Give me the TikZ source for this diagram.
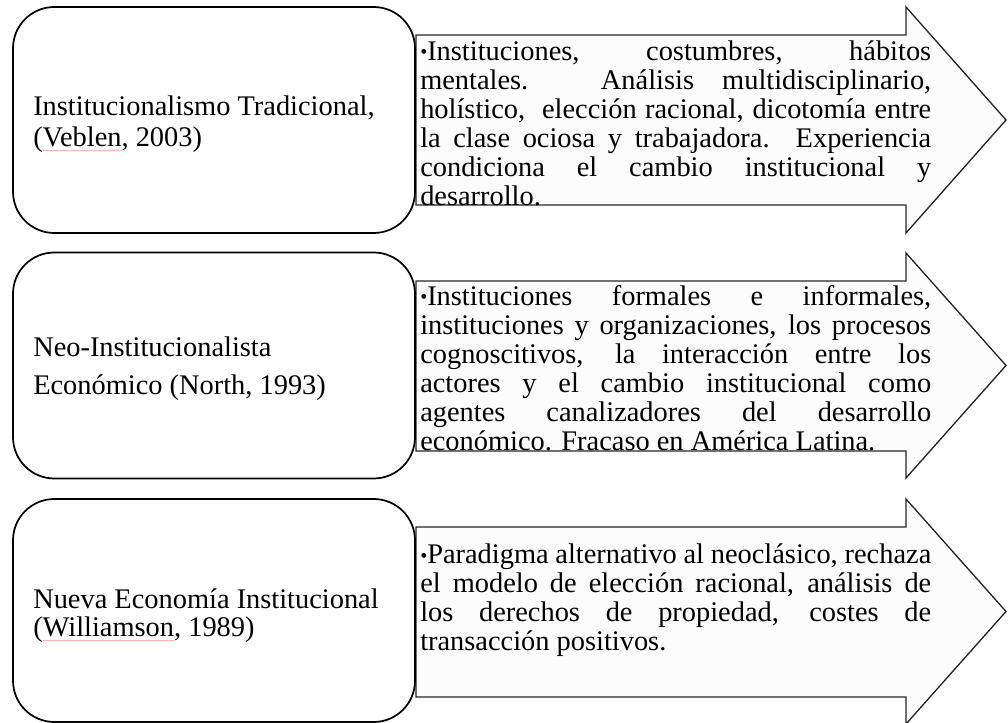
\documentclass[tikz,border=0pt]{standalone}
\usepackage{fontspec}
\setmainfont{Liberation Serif}
\newlength\spw
\newcommand\spellmark[1]{\settowidth\spw{#1}\rlap{\color{red!30}\rule[-3pt]{\spw}{0.6pt}}#1}
\newcommand\bulmark{\noindent\hangindent=5.25pt\hangafter=1\makebox[5.25pt][l]{\fontsize{15}{15}\selectfont\raisebox{1pt}{•}}}
\newcommand\nols{\lineskiplimit=-50pt\relax}
\newcommand\fa{\fontsize{21.3}{23.25}\selectfont\nols}
\newcommand\fb{\fontsize{21.3}{28.5}\selectfont\nols}
\newcommand\fc{\fontsize{21.3}{21}\selectfont\nols}
\newcommand\fr{\fontsize{21.3}{21.75}\selectfont\nols}
\tikzset{
  lbox/.style={draw=black, line width=1.3pt, fill=white, rounded corners=31pt, minimum width=301.5pt, minimum height=169.5pt, inner sep=0pt},
  arr/.style={draw=black!85, line width=1pt, fill=gray!2},
  ltext/.style={anchor=west, inner sep=0pt, align=left},
  rtext/.style={anchor=west, inner sep=0pt, text width=383.25pt, align=justify, font=\fr}
}
\begin{document}
\begin{tikzpicture}[x=0.75pt,y=-0.75pt]
\useasboundingbox (0,0) rectangle (1008,723);
% arrows
\path[arr] (416,35) -- (906,35) -- (906,7) -- (1006,120) -- (906,233) -- (906,205) -- (416,205) -- cycle;
\path[arr] (416,281) -- (906,281) -- (906,253) -- (1006,365.5) -- (906,478) -- (906,451) -- (416,451) -- cycle;
\path[arr] (416,527) -- (906,527) -- (906,499) -- (1006,611.5) -- (906,724) -- (906,697) -- (416,697) -- cycle;
% boxes
\node[lbox] (b1) at (214,120) {};
\node[lbox] (b2) at (214,365.5) {};
\node[lbox, minimum height=167.25pt] (b3) at (214,610.5) {};
% left texts
\node[ltext, font=\fa] (l1) at (33,124) {Institucionalismo Tradicional,\\(\spellmark{Veblen}, 2003)};
\node[ltext, font=\fb] (l2) at (33,369) {Neo-Institucionalista\\Económico (North, 1993)};
\node[ltext, font=\fc] (l3) at (33,616) {Nueva Economía Institucional\\(\spellmark{Williamson}, 1989)};
% arrow texts
\node[rtext] (t1) at (420,123) {\bulmark Instituciones, costumbres, hábitos\linebreak mentales. Análisis multidisciplinario,\linebreak holístico,\ \ elección racional, dicotomía entre\linebreak la clase ociosa y trabajadora. Experiencia\linebreak condiciona el cambio institucional y\linebreak desarrollo.};
\node[rtext] (t2) at (420,368) {\bulmark Instituciones formales e informales,\linebreak instituciones y organizaciones, los procesos\linebreak cognoscitivos, la interacción entre los\linebreak actores y el cambio institucional como\linebreak agentes canalizadores del desarrollo\linebreak económico. Fracaso en América Latina.};
\node[rtext] (t3) at (420,600) {\bulmark Paradigma alternativo al neoclásico, rechaza\linebreak el modelo de elección racional, análisis de\linebreak los derechos de propiedad, costes de\linebreak transacción positivos.};
\end{tikzpicture}
\end{document}
